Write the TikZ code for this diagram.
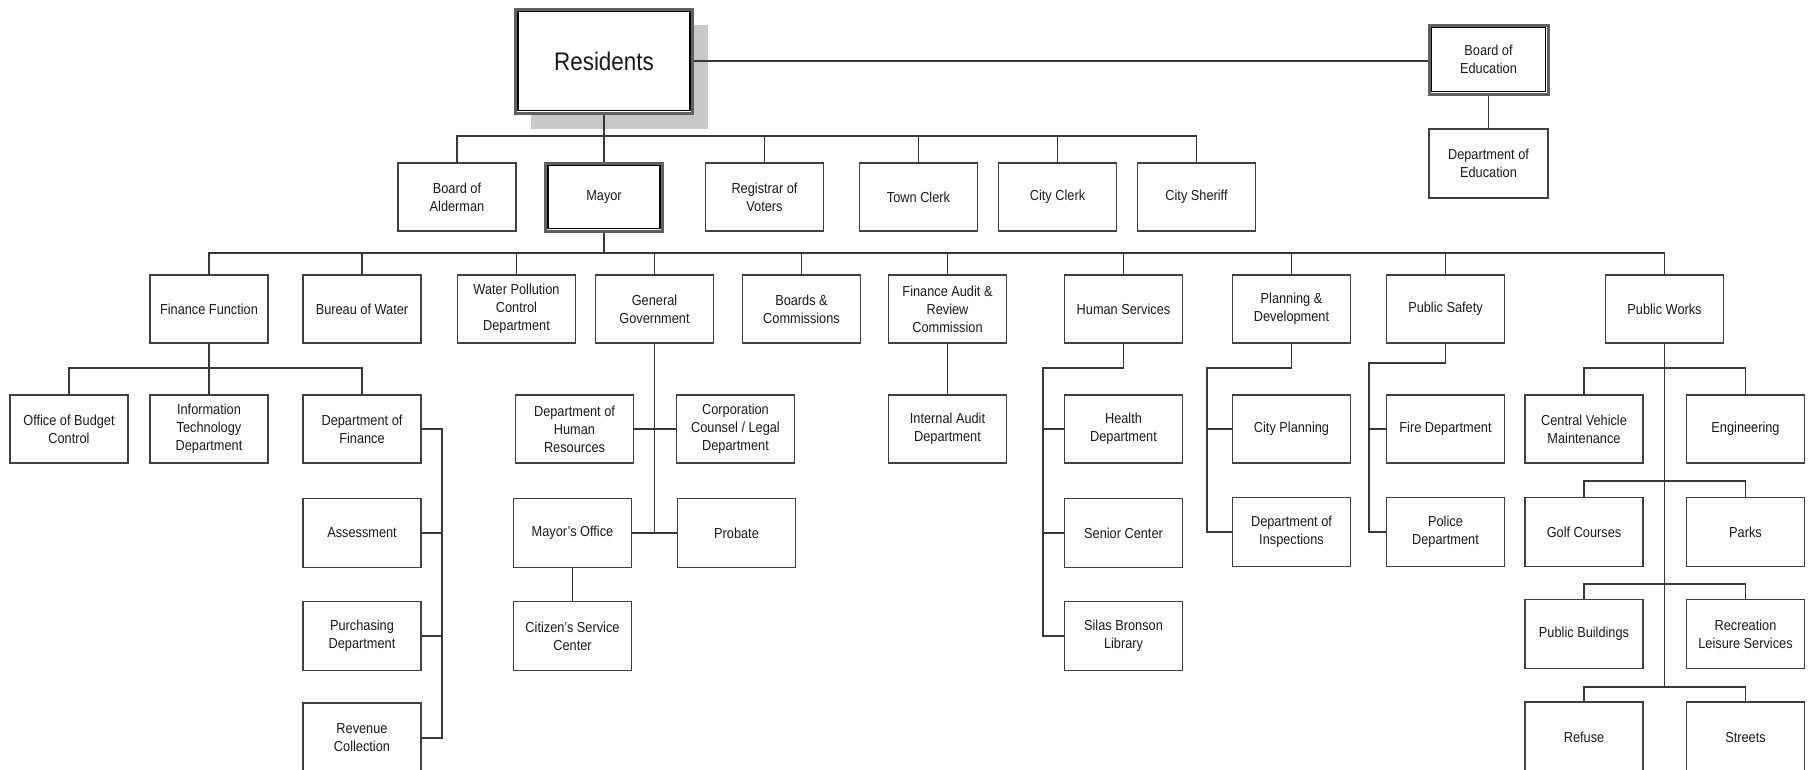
\documentclass[tikz,border=0pt]{standalone}
\usepackage{fontspec}
\setmainfont{Liberation Sans}[FakeStretch=0.88]
\usetikzlibrary{shadows}
\definecolor{boxc}{HTML}{404040}
\definecolor{linec}{HTML}{383838}
\definecolor{txtc}{HTML}{1A1A1A}
\definecolor{shadc}{HTML}{C8C8C8}
\tikzset{
  unit/.style={draw=boxc, line width=1.7pt, fill=white, minimum width=118pt, minimum height=68pt,
    inner sep=2pt, align=center, text=txtc, font=\fontsize{14.5}{18}\selectfont},
  dbl/.style={unit, draw=gray!75!black, line width=3pt},
  inner/.style={draw=black, line width=1.5pt},
  conn/.style={draw=linec, line width=1.6pt},
}
\begin{document}
\begin{tikzpicture}[x=1pt, y=-1pt]
\useasboundingbox (0,0) rectangle (1809,769);
\clip (0,0) rectangle (1809,769);
\fill[white] (0,0) rectangle (1809,769);

% level 0
\node[dbl, minimum width=177pt, minimum height=104pt, font=\fontsize{25.5}{30}\selectfont,
  drop shadow={shadow xshift=15pt, shadow yshift=-16pt, fill=shadc, opacity=1}] (res) at (604,61) {Residents};
\node[dbl, minimum width=119pt, minimum height=69pt] (boe) at (1488.5,59.5) {Board of\\Education};
\node[unit, minimum width=119pt, minimum height=69pt] (doe) at (1488.5,163.5) {Department of\\Education};

% level 1
\node[unit] (alder) at (457,197) {Board of\\Alderman};
\node[dbl, minimum width=117pt] (mayor) at (604,197) {Mayor};
\node[unit] (reg) at (764.5,197) {Registrar of\\Voters};
\node[unit] (town) at (918.5,197) {Town Clerk};
\node[unit] (cityclerk) at (1057.5,197) {City Clerk};
\node[unit] (sheriff) at (1196.5,197) {City Sheriff};

% inner lines of double boxes
\foreach \n in {res,boe,mayor}{
  \draw[inner] ([shift={(4,4)}]\n.north west) rectangle ([shift={(-4,-4)}]\n.south east);
}

% level 2
\node[unit] (fin) at (209,309) {Finance Function};
\node[unit] (water) at (362,309) {Bureau of Water};
\node[unit] (wpc) at (516.5,309) {Water Pollution\\Control\\Department};
\node[unit] (gg) at (654.5,309) {General\\Government};
\node[unit] (boards) at (801.5,309) {Boards \&\\Commissions};
\node[unit] (faudit) at (947.5,309) {Finance Audit \&\\Review\\Commission};
\node[unit] (hs) at (1123.5,309) {Human Services};
\node[unit] (pd) at (1291.5,309) {Planning \&\\Development};
\node[unit] (ps) at (1445.5,309) {Public Safety};
\node[unit] (pw) at (1664.5,309) {Public Works};

% level 3
\node[unit] (obc) at (69,429) {Office of Budget\\Control};
\node[unit] (it) at (209,429) {Information\\Technology\\Department};
\node[unit] (dof) at (362,429) {Department of\\Finance};
\node[unit] (dhr) at (574.5,429) {Department of\\Human\\Resources};
\node[unit] (corp) at (735.5,429) {Corporation\\Counsel / Legal\\Department};
\node[unit] (ia) at (947.5,429) {Internal Audit\\Department};
\node[unit] (health) at (1123.5,429) {Health\\Department};
\node[unit] (cityplan) at (1291.5,429) {City Planning};
\node[unit] (fire) at (1445.5,429) {Fire Department};
\node[unit] (cvm) at (1584,429) {Central Vehicle\\Maintenance};
\node[unit] (eng) at (1745.5,429) {Engineering};

% level 4
\node[unit, minimum height=69pt] (assess) at (362,533) {Assessment};
\node[unit, minimum height=69pt] (mo) at (572.5,533) {Mayor's Office};
\node[unit, minimum height=69pt] (probate) at (736.5,533) {Probate};
\node[unit, minimum height=69pt] (senior) at (1123.5,533) {Senior Center};
\node[unit, minimum height=69pt] (insp) at (1291.5,532) {Department of\\Inspections};
\node[unit, minimum height=69pt] (police) at (1445.5,532) {Police\\Department};
\node[unit, minimum height=69pt] (golf) at (1584,532) {Golf Courses};
\node[unit, minimum height=69pt] (parks) at (1745.5,532) {Parks};

% level 5
\node[unit, minimum height=69pt] (purch) at (362,636) {Purchasing\\Department};
\node[unit, minimum height=69pt] (csc) at (572.5,636) {Citizen's Service\\Center};
\node[unit, minimum height=69pt] (silas) at (1123.5,636) {Silas Bronson\\Library};
\node[unit, minimum height=69pt] (pb) at (1584,634) {Public Buildings};
\node[unit, minimum height=69pt] (rls) at (1745.5,634) {Recreation\\Leisure Services};

% level 6
\node[unit, minimum height=70pt] (revenue) at (362,738) {Revenue\\Collection};
\node[unit, minimum height=70pt] (refuse) at (1584,737) {Refuse};
\node[unit, minimum height=70pt] (streets) at (1745.5,737) {Streets};

% bus coordinates
\coordinate (b1) at (0,136);
\coordinate (b2) at (0,253);
\coordinate (b3) at (0,368);
\coordinate (b3b) at (0,363);
\coordinate (b4) at (0,481);
\coordinate (b5) at (0,584);
\coordinate (b6) at (0,687);
\coordinate (dfx) at (442,0);
\coordinate (hsx) at (1043,0);
\coordinate (pdx) at (1207,0);
\coordinate (psx) at (1369,0);

% residents connections
\draw[conn] (res.east) -- (res.east -| boe.west);
\draw[conn] (boe.south) -- (doe.north);
\draw[conn] (res.south) -- (mayor.north);
\draw[conn] (alder.north) -- (alder.north |- b1) -- (sheriff.north |- b1) -- (sheriff.north);
\foreach \n in {reg,town,cityclerk}{\draw[conn] (\n.north) -- (\n.north |- b1);}

% mayor connections
\draw[conn] (mayor.south) -- (mayor.south |- b2);
\draw[conn] (fin.north) -- (fin.north |- b2) -- (pw.north |- b2) -- (pw.north);
\foreach \n in {water,wpc,gg,boards,faudit,hs,pd,ps}{\draw[conn] (\n.north) -- (\n.north |- b2);}

% finance function
\draw[conn] (fin.south) -- (it.north);
\draw[conn] (obc.north) -- (obc.north |- b3) -- (dof.north |- b3) -- (dof.north);
\draw[conn] (dof.east) -- (dof.east -| dfx) -- (dfx |- revenue.east) -- (revenue.east);
\draw[conn] (assess.east) -- (assess.east -| dfx);
\draw[conn] (purch.east) -- (purch.east -| dfx);

% general government
\draw[conn] (gg.south) -- (gg.south |- mo.east);
\draw[conn] (dhr.east) -- (corp.west);
\draw[conn] (mo.east) -- (probate.west);
\draw[conn] (mo.south) -- (csc.north);

% finance audit
\draw[conn] (faudit.south) -- (ia.north);

% human services
\draw[conn] (hs.south) -- (hs.south |- b3) -- (hsx |- b3) -- (hsx |- silas.west) -- (silas.west);
\draw[conn] (health.west) -- (health.west -| hsx);
\draw[conn] (senior.west) -- (senior.west -| hsx);

% planning & development
\draw[conn] (pd.south) -- (pd.south |- b3) -- (pdx |- b3) -- (pdx |- insp.west) -- (insp.west);
\draw[conn] (cityplan.west) -- (cityplan.west -| pdx);

% public safety
\draw[conn] (ps.south) -- (ps.south |- b3b) -- (psx |- b3b) -- (psx |- police.west) -- (police.west);
\draw[conn] (fire.west) -- (fire.west -| psx);

% public works
\draw[conn] (pw.south) -- (pw.south |- b6);
\draw[conn] (cvm.north) -- (cvm.north |- b3) -- (eng.north |- b3) -- (eng.north);
\draw[conn] (golf.north) -- (golf.north |- b4) -- (parks.north |- b4) -- (parks.north);
\draw[conn] (pb.north) -- (pb.north |- b5) -- (rls.north |- b5) -- (rls.north);
\draw[conn] (refuse.north) -- (refuse.north |- b6) -- (streets.north |- b6) -- (streets.north);
\end{tikzpicture}
\end{document}
